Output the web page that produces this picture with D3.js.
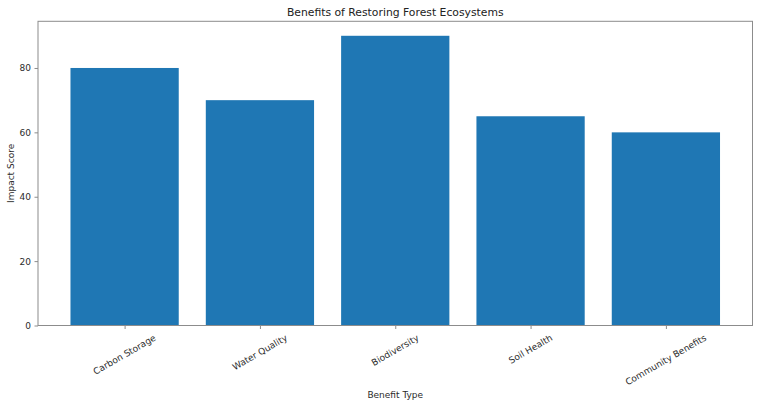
<!DOCTYPE html>
<html><head><meta charset="utf-8">
<script src="https://cdn.jsdelivr.net/npm/d3@7"></script>
<style>body{margin:0;background:#fff;} text{font-family:"DejaVu Sans",sans-serif;}</style>
</head><body>
<svg id="c" width="758" height="406"></svg>
<script>
const categories = ["Carbon Storage","Water Quality","Biodiversity","Soil Health","Community Benefits"];
const values = [80,70,90,65,60];
const yTicks = [0,20,40,60,80];
const title = "Benefits of Restoring Forest Ecosystems";
const xLabel = "Benefit Type";
const yLabel = "Impact Score";

const svg = d3.select("#c");
const L=38, R=752.5, T=21.3, B=325.5;
const n = categories.length;
const x = d3.scaleLinear().domain([-0.64, n-1+0.64]).range([L,R]);
const y = d3.scaleLinear().domain([0, 94.5]).range([B,T]);
const textCol = "#2b2b2b", spineCol = "#8c8c8c";
const fs = "9px";

svg.selectAll("rect.bar").data(values).join("rect").attr("class","bar")
  .attr("x",(d,i)=>x(i-0.4)).attr("width",(d,i)=>x(i+0.4)-x(i-0.4))
  .attr("y",d=>y(d)).attr("height",d=>y(0)-y(d)).attr("fill","#1f77b4");

svg.append("rect").attr("x",L).attr("y",T).attr("width",R-L).attr("height",B-T)
  .attr("fill","none").attr("stroke",spineCol).attr("stroke-width",1);

const ya = svg.append("g").attr("transform",`translate(${L},0)`)
  .call(d3.axisLeft(y).tickValues(yTicks).tickSize(3.5).tickPadding(3.5));
ya.select(".domain").remove();
ya.selectAll("line").attr("stroke",spineCol);
ya.selectAll("text").attr("fill",textCol).style("font-size",fs).style("font-family","DejaVu Sans");

const xa = svg.append("g").attr("transform",`translate(0,${B})`)
  .call(d3.axisBottom(x).tickValues(d3.range(n)).tickSize(3.5).tickFormat(""));
xa.select(".domain").remove();
xa.selectAll("line").attr("stroke",spineCol);

categories.forEach((c,i)=>{
  const t = svg.append("text").text(c).attr("fill",textCol)
    .style("font-size",fs).attr("text-anchor","middle").attr("dominant-baseline","central");
  const w = t.node().getComputedTextLength();
  const h = 10.5;
  const a = Math.PI/6;
  const bh = w*Math.sin(a)+h*Math.cos(a);
  const cx = x(i), cy = B+3.5+3.5+bh/2;
  t.attr("transform",`translate(${cx},${cy}) rotate(-30)`);
});

svg.append("text").text(title).attr("x",(L+R)/2).attr("y",16).attr("text-anchor","middle")
  .attr("fill","#222").style("font-size","10.8px");
svg.append("text").text(xLabel).attr("x",(L+R)/2).attr("y",398).attr("text-anchor","middle")
  .attr("fill",textCol).style("font-size",fs);
svg.append("text").text(yLabel).attr("transform",`translate(14,${(T+B)/2}) rotate(-90)`)
  .attr("text-anchor","middle").attr("fill",textCol).style("font-size",fs);
</script>
</body></html>
